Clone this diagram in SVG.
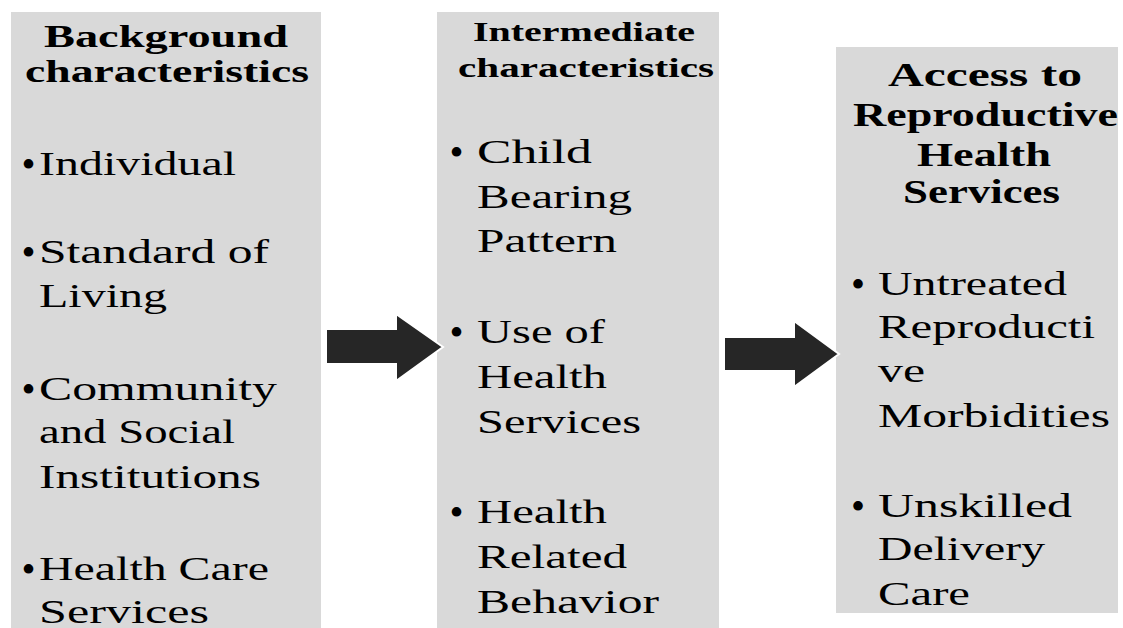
<svg xmlns="http://www.w3.org/2000/svg" width="1123" height="628" viewBox="0 0 1123 628">
<style>
.box{fill:#d9d9d9}
.h{font-family:"Liberation Serif","Times New Roman",serif;font-weight:bold;fill:#000}
.t{font-family:"Liberation Serif","Times New Roman",serif;font-size:34px;fill:#000}
.b{font-family:"Liberation Serif","Times New Roman",serif;font-size:40px;fill:#000;text-anchor:middle}
.arrow{fill:#262626;stroke:#ffffff;stroke-width:2;stroke-linejoin:miter}
</style>
<rect width="1123" height="628" fill="#ffffff"/>
<g id="node-background">
<rect class="box" x="11" y="12" width="310" height="616"/>
<text class="h" font-size="31" x="44" y="47" textLength="244" lengthAdjust="spacingAndGlyphs">Background</text>
<text class="h" font-size="31" x="25" y="82" textLength="284" lengthAdjust="spacingAndGlyphs">characteristics</text>
<text class="b" x="28.5" y="178">•</text>
<text class="t" x="39" y="175" textLength="197" lengthAdjust="spacingAndGlyphs">Individual</text>
<text class="b" x="28.5" y="266">•</text>
<text class="t" x="39" y="263" textLength="230" lengthAdjust="spacingAndGlyphs">Standard of</text>
<text class="t" x="39" y="307" textLength="128" lengthAdjust="spacingAndGlyphs">Living</text>
<text class="b" x="28.5" y="403">•</text>
<text class="t" x="39" y="400" textLength="238" lengthAdjust="spacingAndGlyphs">Community</text>
<text class="t" x="39" y="443" textLength="196" lengthAdjust="spacingAndGlyphs">and Social</text>
<text class="t" x="39" y="488" textLength="222" lengthAdjust="spacingAndGlyphs">Institutions</text>
<text class="b" x="28.5" y="583">•</text>
<text class="t" x="39" y="580" textLength="230" lengthAdjust="spacingAndGlyphs">Health Care</text>
<text class="t" x="39" y="623" textLength="170" lengthAdjust="spacingAndGlyphs">Services</text>
</g>
<g id="node-intermediate">
<rect class="box" x="437" y="12" width="282" height="616"/>
<text class="h" font-size="27" x="473" y="41" textLength="222" lengthAdjust="spacingAndGlyphs">Intermediate</text>
<text class="h" font-size="27" x="458" y="77" textLength="256" lengthAdjust="spacingAndGlyphs">characteristics</text>
<text class="b" x="456.5" y="166">•</text>
<text class="t" x="477" y="163" textLength="115" lengthAdjust="spacingAndGlyphs">Child</text>
<text class="t" x="477" y="208" textLength="155" lengthAdjust="spacingAndGlyphs">Bearing</text>
<text class="t" x="477" y="252" textLength="140" lengthAdjust="spacingAndGlyphs">Pattern</text>
<text class="b" x="456.5" y="346">•</text>
<text class="t" x="477" y="343" textLength="128" lengthAdjust="spacingAndGlyphs">Use of</text>
<text class="t" x="477" y="388" textLength="130" lengthAdjust="spacingAndGlyphs">Health</text>
<text class="t" x="477" y="433" textLength="164" lengthAdjust="spacingAndGlyphs">Services</text>
<text class="b" x="456.5" y="526">•</text>
<text class="t" x="477" y="523" textLength="130" lengthAdjust="spacingAndGlyphs">Health</text>
<text class="t" x="477" y="568" textLength="150" lengthAdjust="spacingAndGlyphs">Related</text>
<text class="t" x="477" y="613" textLength="182" lengthAdjust="spacingAndGlyphs">Behavior</text>
</g>
<g id="node-access">
<rect class="box" x="836" y="47" width="282" height="566"/>
<text class="h" font-size="33" x="888" y="86" textLength="194" lengthAdjust="spacingAndGlyphs">Access to</text>
<text class="h" font-size="33" x="853" y="126" textLength="265" lengthAdjust="spacingAndGlyphs">Reproductive</text>
<text class="h" font-size="33" x="917" y="166" textLength="134" lengthAdjust="spacingAndGlyphs">Health</text>
<text class="h" font-size="33" x="903" y="203" textLength="157" lengthAdjust="spacingAndGlyphs">Services</text>
<text class="b" x="858" y="298">•</text>
<text class="t" x="878" y="295" textLength="189" lengthAdjust="spacingAndGlyphs">Untreated</text>
<text class="t" x="878" y="338" textLength="217" lengthAdjust="spacingAndGlyphs">Reproducti</text>
<text class="t" x="878" y="382" textLength="47" lengthAdjust="spacingAndGlyphs">ve</text>
<text class="t" x="878" y="427" textLength="232" lengthAdjust="spacingAndGlyphs">Morbidities</text>
<text class="b" x="858" y="520">•</text>
<text class="t" x="878" y="517" textLength="194" lengthAdjust="spacingAndGlyphs">Unskilled</text>
<text class="t" x="878" y="560" textLength="167" lengthAdjust="spacingAndGlyphs">Delivery</text>
<text class="t" x="878" y="605" textLength="92" lengthAdjust="spacingAndGlyphs">Care</text>
</g>
<g id="connectors">
<polygon id="arrow-1" class="arrow" points="326,329 396,329 396,314 443,347 396,381 396,364 326,364"/>
<polygon id="arrow-2" class="arrow" points="724,337 794,337 794,321 839,354 794,387 794,371 724,371"/>
</g>
</svg>
